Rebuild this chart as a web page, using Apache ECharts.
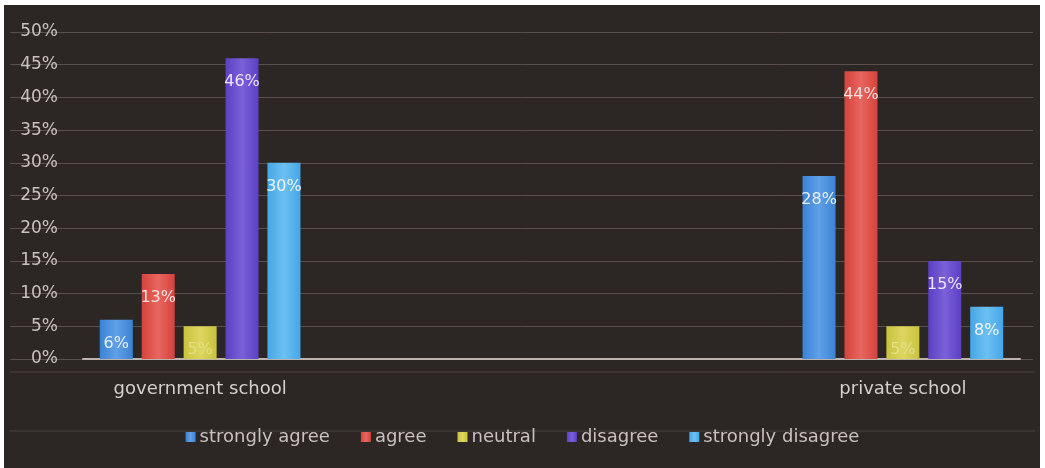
<!DOCTYPE html>
<html>
<head>
<meta charset="utf-8">
<script src="https://cdn.jsdelivr.net/npm/echarts@6/dist/echarts.min.js"></script>
<style>
  html, body { margin: 0; padding: 0; background: #ffffff; }
  #chart { width: 1045px; height: 468px; }
</style>
</head>
<body>
<div id="chart"></div>
<script>
// ---- data ----
var categories = ['government school', '', '', 'private school'];
var seriesNames = ['strongly agree', 'agree', 'neutral', 'disagree', 'strongly disagree'];
var stronglyAgree = [6, null, null, 28];
var agree = [13, null, null, 44];
var neutral = [5, null, null, 5];
var disagree = [46, null, null, 15];
var stronglyDisagree = [30, null, null, 8];
var yTicks = [0, 5, 10, 15, 20, 25, 30, 35, 40, 45, 50];

var seriesValues = [stronglyAgree, agree, neutral, disagree, stronglyDisagree];
var colors = ['#3b82d4', '#d6423c', '#c9c23c', '#5b40c4', '#46a6e6'];
var lightColors = ['#5fa0e8', '#e86660', '#dcd660', '#7a60d8', '#6cc0f2'];
var labelColors = ['#e8eef8', '#f4e0de', '#e4de8a', '#ece4f8', '#eef6fc'];

var FONT = 'DejaVu Sans';
var chart = echarts.init(document.getElementById('chart'));

var series = seriesNames.map(function (name, i) {
  return {
    name: name,
    type: 'bar',
    xAxisIndex: 1,
    yAxisIndex: 1,
    data: seriesValues[i],
    barWidth: 33,
    barGap: '27%',
    itemStyle: {
      color: new echarts.graphic.LinearGradient(0, 0, 1, 0, [
        { offset: 0, color: colors[i] },
        { offset: 0.5, color: lightColors[i] },
        { offset: 1, color: colors[i] }
      ])
    },
    label: {
      show: true,
      position: 'insideTop',
      distance: 16,
      formatter: '{c}%',
      color: labelColors[i],
      fontFamily: FONT,
      fontSize: 16
    }
  };
});

chart.setOption({
  backgroundColor: '#ffffff',
  animation: false,
  textStyle: { fontFamily: FONT },
  graphic: [
    { type: 'rect', z: -100, shape: { x: 4, y: 5, width: 1036, height: 463 }, style: { fill: '#2c2725' }, silent: true },
    { type: 'line', z: -50, shape: { x1: 10, y1: 372, x2: 1035, y2: 372 }, style: { stroke: '#4a4240', lineWidth: 1 }, silent: true },
    { type: 'line', z: -50, shape: { x1: 10, y1: 431, x2: 1035, y2: 431 }, style: { stroke: '#4a4240', lineWidth: 1 }, silent: true }
  ],
  grid: [
    { left: 10, right: 12, top: 32, bottom: 109 },
    { left: 83, right: 25, top: 32, bottom: 109 }
  ],
  xAxis: [
    { gridIndex: 0, type: 'category', data: categories, show: false },
    {
      gridIndex: 1, type: 'category', data: categories,
      axisLine: { show: true, lineStyle: { color: '#bdb4b0', width: 2 } },
      axisTick: { show: false },
      axisLabel: { color: '#d6cfcb', fontFamily: FONT, fontSize: 18, margin: 21, interval: 0 }
    }
  ],
  yAxis: [
    {
      gridIndex: 0, type: 'value', min: 0, max: 50, interval: 5,
      axisLabel: { show: false }, axisLine: { show: false }, axisTick: { show: false },
      splitLine: { show: true, lineStyle: { color: '#5a514e', width: 1 } }
    },
    {
      gridIndex: 1, type: 'value', min: 0, max: 50, interval: 5,
      axisLine: { show: false }, axisTick: { show: false },
      splitLine: { show: false },
      axisLabel: {
        color: '#c9c1bd', fontFamily: FONT, fontSize: 17, margin: 25,
        formatter: function (v) { return yTicks.indexOf(v) >= 0 ? v + '%' : ''; }
      }
    }
  ],
  legend: {
    bottom: 17,
    left: 'center',
    itemWidth: 10,
    itemHeight: 10,
    itemGap: 31,
    icon: 'rect',
    textStyle: { color: '#c9c1bd', fontFamily: FONT, fontSize: 18, padding: [0, 0, 0, -1] },
    data: seriesNames
  },
  series: series
});
</script>
</body>
</html>
